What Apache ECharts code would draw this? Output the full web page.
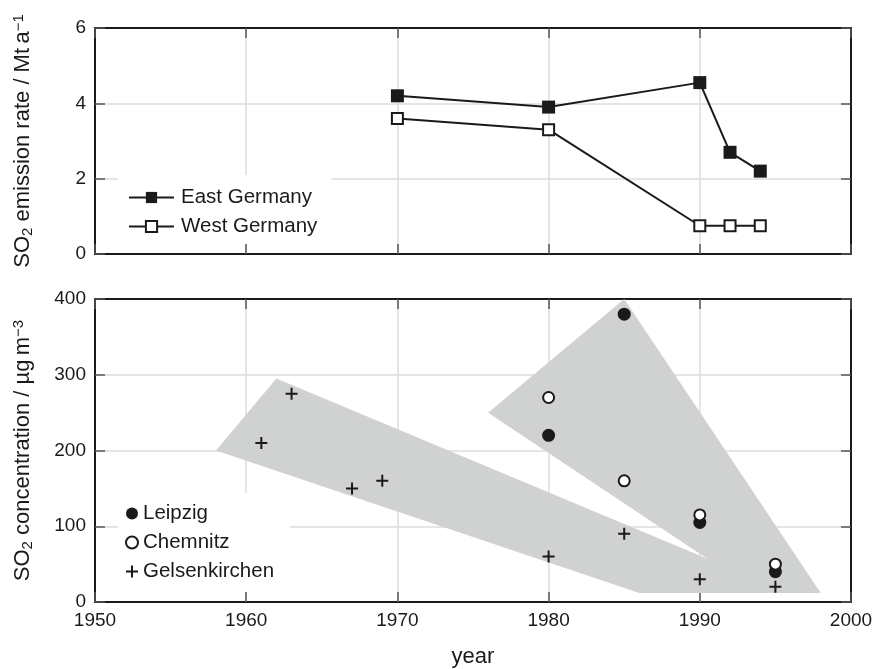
<!DOCTYPE html>
<html>
<head>
<meta charset="utf-8">
<script src="https://cdn.jsdelivr.net/npm/echarts@6/dist/echarts.min.js"></script>
<style>
  html, body { margin: 0; padding: 0; background: #fff; }
  #chart { width: 877px; height: 669px; }
</style>
</head>
<body>
<div id="chart"></div>
<script>
// ---- emission rates (Mt/a) ----
const eastYears = [1970, 1980, 1990, 1992, 1994];
const eastValues = [4.2, 3.9, 4.55, 2.7, 2.2];
const westYears = [1970, 1980, 1990, 1992, 1994];
const westValues = [3.6, 3.3, 0.75, 0.75, 0.75];

// ---- ambient concentrations (µg/m³) ----
const leipzigYears = [1980, 1985, 1990, 1995];
const leipzigValues = [220, 380, 105, 40];
const chemnitzYears = [1980, 1985, 1990, 1995];
const chemnitzValues = [270, 160, 115, 50];
const gelsenYears = [1961, 1963, 1967, 1969, 1980, 1985, 1990, 1995];
const gelsenValues = [210, 275, 150, 160, 60, 90, 30, 20];

// shaded trend bands (outline vertices, year / concentration)
const bandYears = [1958, 1962, 1990.5, 1976, 1985, 1998, 1986];
const bandValues = [200, 295, 57, 250, 400, 12, 12];

// axis ticks
const yearTicks = { min: 1950, max: 2000, step: 10 };
const emissionTicks = { min: 0, max: 6, step: 2 };
const concTicks = { min: 0, max: 400, step: 100 };

const pairs = (xs, ys) => xs.map((x, i) => [x, ys[i]]);

const INK = '#1a1a1a';
const FONT = 'Liberation Sans, Arial, Helvetica, sans-serif';
const FS = 19;      // tick labels
const TITLE = 22;   // axis titles
const LEG = 20.5;   // legend entries

const axisLine = { show: true, onZero: false, lineStyle: { color: INK, width: 2 } };
const tick = { show: true, inside: true, length: 10, lineStyle: { color: '#555', width: 1.5 } };
const grid = { show: true, lineStyle: { color: '#dcdcdc', width: 1.5 } };
const label = { color: INK, fontSize: FS, fontFamily: FONT };

function xAxisPair(gridIndex, withLabels) {
  const base = { type: 'value', gridIndex, min: yearTicks.min, max: yearTicks.max, interval: yearTicks.step };
  return [
    Object.assign({}, base, {
      position: 'bottom', axisLine, axisTick: tick, splitLine: grid,
      axisLabel: withLabels ? Object.assign({ margin: 9, formatter: v => String(v) }, label) : { show: false },
      name: withLabels ? 'year' : '', nameLocation: 'middle', nameGap: 44,
      nameTextStyle: { color: INK, fontSize: TITLE, fontFamily: FONT }
    }),
    Object.assign({}, base, {
      position: 'top', axisLine, axisTick: tick, splitLine: { show: false }, axisLabel: { show: false }
    })
  ];
}

function yAxisPair(gridIndex, t, nameRich) {
  const base = { type: 'value', gridIndex, min: t.min, max: t.max, interval: t.step };
  const rich = {
    n: { fontSize: TITLE, fontFamily: FONT, color: INK },
    sub: { fontSize: 15, fontFamily: FONT, color: INK, verticalAlign: 'bottom', padding: [9, 0, 0, 0] },
    sup: { fontSize: 15, fontFamily: FONT, color: INK, verticalAlign: 'top', padding: [0, 0, 9, 0] }
  };
  return [
    Object.assign({}, base, {
      position: 'left', axisLine, axisTick: tick, splitLine: grid,
      axisLabel: Object.assign({ margin: 9 }, label),
      name: nameRich, nameLocation: 'middle', nameGap: 60, nameRotate: 90,
      nameTextStyle: { rich, fontSize: TITLE, fontFamily: FONT, color: INK }
    }),
    Object.assign({}, base, {
      position: 'right', axisLine, axisTick: tick, splitLine: { show: false }, axisLabel: { show: false }
    })
  ];
}

const plusPath = 'path://M5,0H7V5H12V7H7V12H5V7H0V5H5Z';
const legendText = { color: INK, fontSize: LEG, fontFamily: FONT };

const option = {
  animation: false,
  backgroundColor: '#fff',
  textStyle: { fontFamily: FONT },
  grid: [
    { left: 95, top: 28, width: 756, height: 226 },
    { left: 95, top: 299, width: 756, height: 303 }
  ],
  xAxis: [...xAxisPair(0, false), ...xAxisPair(1, true)],
  yAxis: [
    ...yAxisPair(0, emissionTicks, '{n|SO}{sub|2}{n| emission rate / Mt\u2009a}{sup|\u22121}'),
    ...yAxisPair(1, concTicks, '{n|SO}{sub|2}{n| concentration / \u00b5g\u2009m}{sup|\u22123}')
  ],
  legend: [
    {
      data: ['East Germany', 'West Germany'],
      orient: 'vertical', left: 118, top: 175,
      padding: [12, 14, 7, 10],
      backgroundColor: '#fff',
      itemWidth: 45, itemHeight: 14, itemGap: 8,
      textStyle: Object.assign({ padding: [0, 0, 0, 2] }, legendText)
    },
    {
      data: ['Leipzig', 'Chemnitz', 'Gelsenkirchen'],
      orient: 'vertical', left: 118, top: 493,
      padding: [10, 16, 10, 7],
      backgroundColor: '#fff',
      itemWidth: 12, itemHeight: 12, itemGap: 8,
      textStyle: legendText
    }
  ],
  series: [
    {
      name: 'East Germany', type: 'line', xAxisIndex: 0, yAxisIndex: 0,
      data: pairs(eastYears, eastValues),
      symbol: 'rect', symbolSize: 13,
      lineStyle: { color: INK, width: 2 },
      itemStyle: { color: INK, borderColor: INK, borderWidth: 0 }
    },
    {
      name: 'West Germany', type: 'line', xAxisIndex: 0, yAxisIndex: 0,
      data: pairs(westYears, westValues),
      symbol: 'rect', symbolSize: 11,
      lineStyle: { color: INK, width: 2 },
      itemStyle: { color: '#fff', borderColor: INK, borderWidth: 2 }
    },
    {
      name: 'band', type: 'custom', xAxisIndex: 2, yAxisIndex: 2,
      data: [[bandYears[0], bandValues[0]]],
      z: 1, silent: true,
      renderItem: function (params, api) {
        const pts = bandYears.map((x, i) => api.coord([x, bandValues[i]]));
        return { type: 'polygon', shape: { points: pts }, style: { fill: '#d0d1d1' } };
      }
    },
    {
      name: 'Leipzig', type: 'scatter', xAxisIndex: 2, yAxisIndex: 2,
      data: pairs(leipzigYears, leipzigValues),
      symbol: 'circle', symbolSize: 13, z: 3,
      itemStyle: { color: INK, opacity: 1 }
    },
    {
      name: 'Chemnitz', type: 'scatter', xAxisIndex: 2, yAxisIndex: 2,
      data: pairs(chemnitzYears, chemnitzValues),
      symbol: 'circle', symbolSize: 11, z: 4,
      itemStyle: { color: '#fff', borderColor: INK, borderWidth: 2, opacity: 1 }
    },
    {
      name: 'Gelsenkirchen', type: 'scatter', xAxisIndex: 2, yAxisIndex: 2,
      data: pairs(gelsenYears, gelsenValues),
      symbol: plusPath, symbolSize: 12, z: 3,
      itemStyle: { color: INK, opacity: 1 }
    }
  ]
};

const chart = echarts.init(document.getElementById('chart'), null, { renderer: 'canvas' });
chart.setOption(option);
</script>
</body>
</html>
